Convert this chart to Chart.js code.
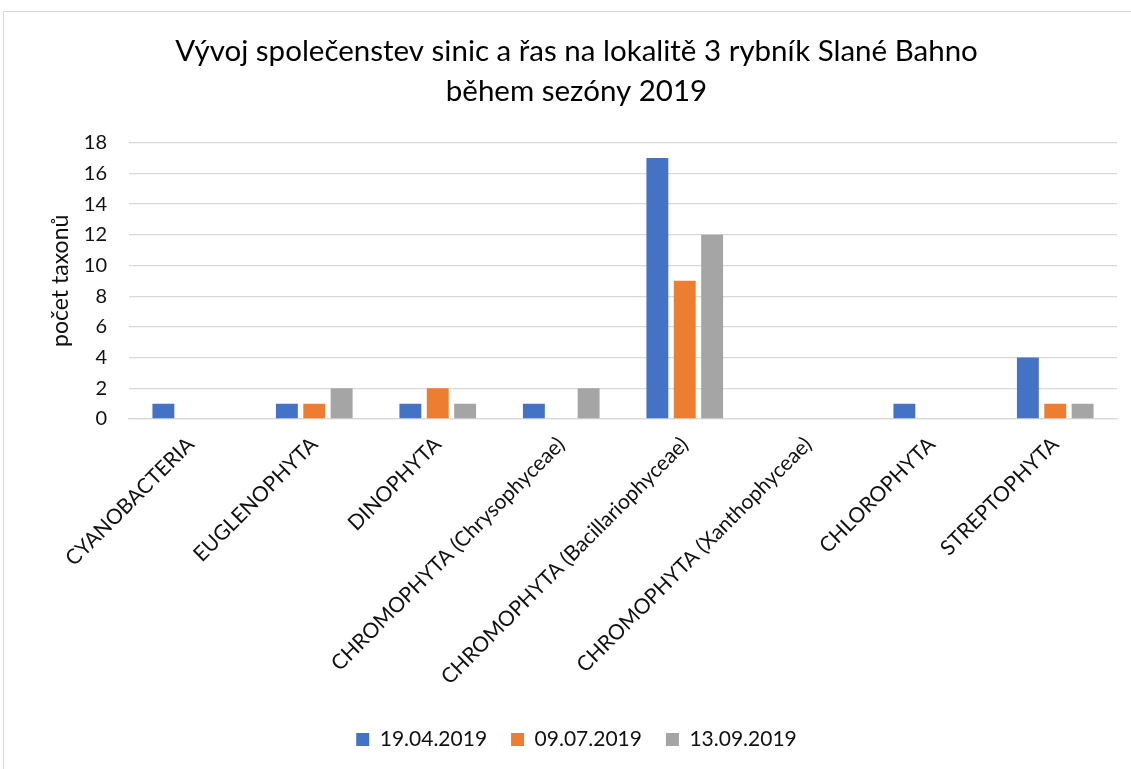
<!DOCTYPE html>
<html>
<head>
<meta charset="utf-8">
<script src="https://cdn.jsdelivr.net/npm/chart.js@4.4.1/dist/chart.umd.min.js"></script>
<style>
    html, body { margin: 0; padding: 0; background: #fff; overflow: hidden; }
    #frame { position: absolute; left: 3px; top: 11px; width: 1200px; height: 800px; border: 1px solid #d9d9d9; }
    #wrap { position: absolute; left: 0; top: 0; width: 1131px; height: 769px; }
</style>
</head>
<body>
<div id="frame"></div>
<div id="wrap"><canvas id="chart"></canvas></div>
<script>
const categories = [
    'CYANOBACTERIA',
    'EUGLENOPHYTA',
    'DINOPHYTA',
    'CHROMOPHYTA (Chrysophyceae)',
    'CHROMOPHYTA (Bacillariophyceae)',
    'CHROMOPHYTA (Xanthophyceae)',
    'CHLOROPHYTA',
    'STREPTOPHYTA',
];
const seriesNames = ['19.04.2019', '09.07.2019', '13.09.2019'];
const april = [1, 1, 1, 1, 17, 0, 1, 4];
const july = [0, 1, 2, 0, 9, 0, 0, 1];
const september = [0, 2, 1, 2, 12, 0, 0, 1];
const yMin = 0;
const yMax = 18;
const yStep = 2;

const colors = ['#4472c4', '#ed7d31', '#a5a5a5'];
const family = "Lato, 'Open Sans', sans-serif";
const textColor = '#111';

const ctx = document.getElementById('chart').getContext('2d');
new Chart(ctx, {
    type: 'bar',
    data: {
        labels: categories,
        datasets: [april, july, september].map((values, i) => ({
            label: seriesNames[i],
            data: values,
            backgroundColor: colors[i],
            barPercentage: 0.8,
            categoryPercentage: 0.665,
        })),
    },
    options: {
        responsive: true,
        maintainAspectRatio: false,
        animation: false,
        // left padding keeps the title and legend centred on the frame, like the original
        layout: { padding: { left: 36, right: 14, top: 32, bottom: 9 } },
        plugins: {
            title: {
                display: true,
                text: [
                    'Vývoj společenstev sinic a řas na lokalitě 3 rybník Slané Bahno',
                    'během sezóny 2019',
                ],
                color: '#000',
                font: { family: family, size: 29.5, weight: 'normal', lineHeight: 1.35 },
                padding: { top: 0, bottom: 31 },
            },
            legend: {
                position: 'bottom',
                labels: {
                    color: textColor,
                    font: { family: family, size: 21 },
                    boxWidth: 13,
                    boxHeight: 13,
                    padding: 24,
                },
            },
            tooltip: { enabled: false },
        },
        scales: {
            x: {
                grid: { display: false },
                border: { color: '#d9d9d9', width: 1.3 },
                ticks: {
                    color: textColor,
                    font: { family: family, size: 21 },
                    minRotation: 45,
                    maxRotation: 45,
                    autoSkip: false,
                    padding: 5,
                },
                afterFit: (scale) => { scale.height = 286; },
            },
            y: {
                min: yMin,
                max: yMax,
                grid: { color: '#d9d9d9', lineWidth: 1.3, drawTicks: false },
                border: { display: false },
                ticks: { stepSize: yStep, color: textColor, font: { family: family, size: 20 }, padding: 22 },
                title: {
                    display: true,
                    text: 'počet taxonů',
                    color: textColor,
                    font: { family: family, size: 23 },
                    padding: { top: 11, bottom: 0 },
                },
                afterFit: (scale) => { scale.width = 93; },
            },
        },
    },
});
</script>
</body>
</html>
